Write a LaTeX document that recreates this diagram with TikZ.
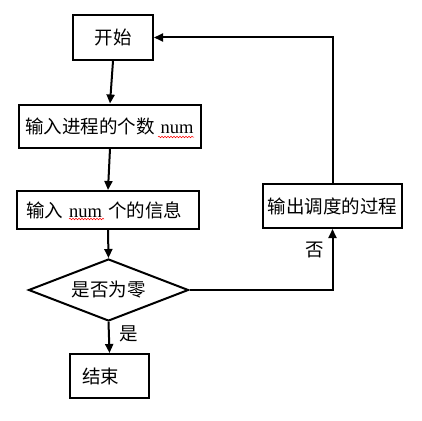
\documentclass[tikz,border=0pt]{standalone}
\usepackage{fontspec}
\setmainfont{Liberation Serif}
\newfontfamily\cjk{Noto Sans CJK SC}
\usetikzlibrary{shapes.geometric,arrows.meta,decorations.pathmorphing}
\begin{document}
\begin{tikzpicture}[x=1pt,y=-1pt,
  every node/.style={font=\fontsize{18.5}{20}\selectfont},
  box/.style={draw,line width=2pt,rectangle,inner sep=0pt,align=left},
  arr/.style={line width=2pt,-{Triangle[length=9pt,width=8pt]}},
  wavy/.style={red,line width=0.5pt,decorate,decoration={snake,amplitude=0.8pt,segment length=3pt}}]
\useasboundingbox (0,0) rectangle (422,420);
\node[box,minimum width=80pt,minimum height=45pt] (start) at (113,37.5) {\cjk 开始};
\node[box,minimum width=181pt,minimum height=43pt,text width=170pt,inner xsep=6pt] (in1) at (110,126) {{\cjk 输入进程的个数} num};
\node[box,minimum width=182pt,minimum height=38pt,text width=164pt,inner xsep=9pt] (in2) at (108,210) {{\cjk 输入} num {\cjk 个的信息}};
\node[draw,line width=2pt,diamond,aspect=2.58,inner sep=0pt,minimum width=160pt,minimum height=62pt] (dia) at (108.5,290) {\cjk 是否为零};
\node[box,minimum width=79pt,minimum height=44pt,text width=55pt,inner xsep=12pt] (end) at (109.5,376) {\cjk 结束};
\node[box,minimum width=139pt,minimum height=44pt,inner xsep=2pt] (out) at (332.5,206) {\cjk 输出调度的过程};
\node (yes) at (129,334) {\cjk 是};
\node (no) at (315,250) {\cjk 否};
\draw[arr] (start.south) -- (in1.north);
\draw[arr] (in1.south) -- (in2.north);
\draw[arr] (in2.south) -- (dia.north);
\draw[arr] (dia.south) -- (end.north);
\draw[arr] (dia.east) -| (out.south);
\draw[arr] (out.north) |- (start.east);
\draw[wavy] (158,137) -- (194,137);
\draw[wavy] (69,219) -- (104,219);
\end{tikzpicture}
\end{document}
